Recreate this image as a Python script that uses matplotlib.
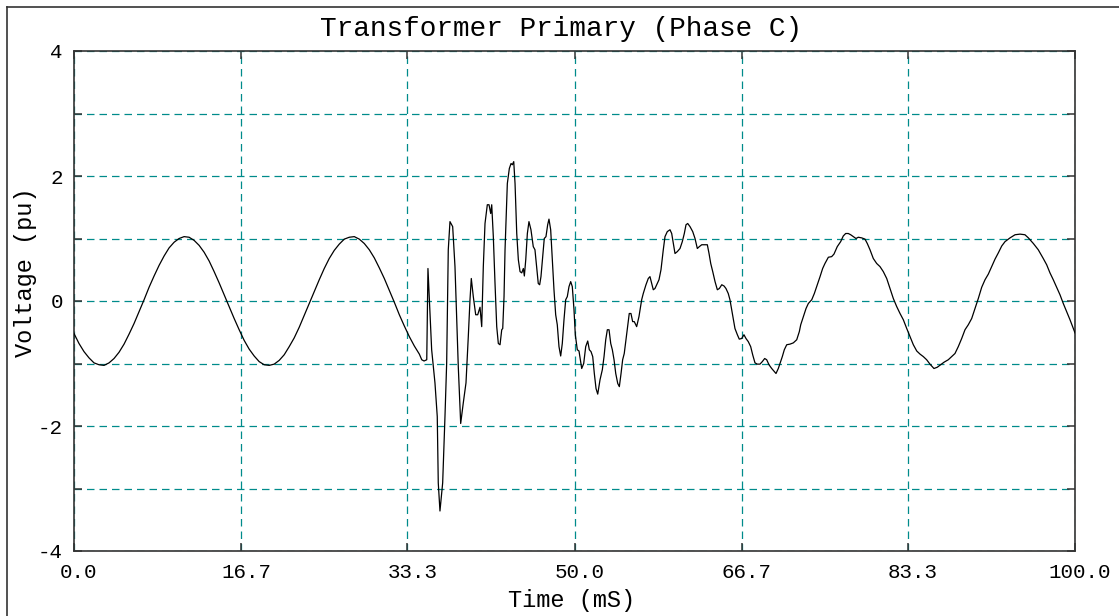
import matplotlib
matplotlib.use("Agg")
import matplotlib.pyplot as plt
from matplotlib.lines import Line2D
from matplotlib.ticker import FixedLocator
from matplotlib.transforms import ScaledTranslation

# ---- data ----
title = "Transformer Primary (Phase C)"
x_label = "Time (mS)"
y_label = "Voltage (pu)"

x_tick_labels = ["0.0", "16.7", "33.3", "50.0", "66.7", "83.3", "100.0"]
y_tick_labels = ["-4", "-2", "0", "2", "4"]
y_grid_minor = [-3, -1, 1, 3]

# pre-disturbance sine (0 .. 34.5 ms)
time_pre = [0.0, 0.5, 1.0, 1.5, 2.0, 2.5, 3.0, 3.5, 4.0, 4.5, 5.0, 5.5, 6.0, 6.5,
            7.0, 7.5, 8.0, 8.5, 9.0, 9.5, 10.0, 10.5, 11.0, 11.5, 12.0, 12.5, 13.0,
            13.5, 14.0, 14.5, 15.0, 15.5, 16.0, 16.5, 17.0, 17.5, 18.0, 18.5, 19.0,
            19.5, 20.0, 20.5, 21.0, 21.5, 22.0, 22.5, 23.0, 23.5, 24.0, 24.5, 25.0,
            25.5, 26.0, 26.5, 27.0, 27.5, 28.0, 28.5, 29.0, 29.5, 30.0, 30.5, 31.0,
            31.5, 32.0, 32.5, 33.0, 33.5, 34.0, 34.5]
volt_pre = [-0.52, -0.68, -0.81, -0.91, -0.99, -1.02, -1.03, -0.99, -0.92, -0.82,
            -0.69, -0.53, -0.36, -0.17, 0.02, 0.22, 0.40, 0.57, 0.72, 0.85, 0.94,
            1.00, 1.03, 1.02, 0.97, 0.89, 0.78, 0.64, 0.47, 0.29, 0.10, -0.09,
            -0.28, -0.46, -0.63, -0.77, -0.88, -0.97, -1.02, -1.03, -1.01, -0.95,
            -0.86, -0.73, -0.59, -0.42, -0.23, -0.04, 0.15, 0.34, 0.52, 0.68, 0.81,
            0.91, 0.99, 1.02, 1.03, 0.99, 0.92, 0.82, 0.69, 0.53, 0.36, 0.17, -0.02,
            -0.22, -0.40, -0.57, -0.72, -0.85]

# disturbance (34.7 .. 72.5 ms)
time_dist = [34.74, 34.97, 35.24, 35.36, 35.73, 36.06, 36.29, 36.39, 36.56, 36.83,
             37.06, 37.23, 37.39, 37.56, 37.83, 38.06, 38.23, 38.39, 38.63, 38.89,
             39.16, 39.39, 39.56, 39.69, 39.89, 40.13, 40.33, 40.56, 40.73, 40.89,
             41.06, 41.29, 41.46, 41.63, 41.73, 41.89, 42.06, 42.23, 42.39, 42.56,
             42.73, 42.83, 42.96, 43.06, 43.29, 43.49, 43.66, 43.79, 43.93, 44.06,
             44.23, 44.39, 44.56, 44.73, 44.89, 44.99, 45.13, 45.29, 45.45, 45.65,
             45.88, 46.05, 46.22, 46.38, 46.52, 46.65, 46.82, 46.98, 47.15, 47.32,
             47.45, 47.62, 47.78, 47.95, 48.12, 48.28, 48.45, 48.62, 48.78, 48.95,
             49.12, 49.28, 49.45, 49.62, 49.78, 49.95, 50.08, 50.28, 50.45, 50.58,
             50.72, 50.92, 51.12, 51.32, 51.48, 51.65, 51.82, 51.98, 52.15, 52.32,
             52.55, 52.78, 52.95, 53.12, 53.28, 53.45, 53.62, 53.78, 53.95, 54.12,
             54.32, 54.48, 54.65, 54.81, 54.97, 55.14, 55.31, 55.47, 55.64, 55.81,
             55.97, 56.21, 56.44, 56.71, 56.87, 57.14, 57.37, 57.54, 57.71, 57.87,
             58.04, 58.21, 58.44, 58.64, 58.87, 59.04, 59.27, 59.54, 59.71, 59.87,
             60.04, 60.27, 60.54, 60.77, 60.97, 61.14, 61.31, 61.54, 61.81, 62.04,
             62.27, 62.47, 62.71, 63.04, 63.27, 63.44, 63.61, 63.81, 64.04, 64.27,
             64.47, 64.71, 64.94, 65.13, 65.36, 65.53, 65.70, 65.86, 66.03, 66.27,
             66.46, 66.70, 66.93, 67.13, 67.36, 67.60, 67.80, 68.03, 68.26, 68.53,
             68.76, 69.00, 69.20, 69.43, 69.70, 69.96, 70.13, 70.36, 70.53, 70.76,
             70.96, 71.20, 71.53, 71.86, 72.20, 72.46]
volt_dist = [-0.94, -0.96, -0.94, 0.52, -0.78, -1.31, -1.85, -2.91, -3.36, -2.91,
             -1.85, -0.99, 0.82, 1.27, 1.19, 0.55, -0.25, -1.05, -1.96, -1.63,
             -1.31, -0.57, 0.02, 0.36, 0.07, -0.22, -0.22, -0.10, -0.41, 0.55,
             1.24, 1.54, 1.54, 1.40, 1.54, 1.03, 0.28, -0.41, -0.68, -0.70,
             -0.46, -0.44, 0.07, 0.82, 1.88, 2.12, 2.20, 2.18, 2.23, 1.88,
             1.08, 0.66, 0.47, 0.45, 0.52, 0.40, 0.66, 1.08, 1.27, 1.14,
             0.87, 0.82, 0.55, 0.28, 0.26, 0.39, 0.71, 1.00, 1.03, 1.22,
             1.31, 1.14, 0.66, 0.18, -0.22, -0.38, -0.73, -0.88, -0.68, -0.30,
             0.02, 0.07, 0.23, 0.31, 0.23, -0.14, -0.54, -0.78, -0.80, -0.94,
             -1.08, -1.00, -0.73, -0.64, -0.78, -0.81, -0.89, -1.16, -1.40, -1.49,
             -1.26, -1.10, -0.89, -0.62, -0.46, -0.46, -0.68, -0.78, -0.94, -1.16,
             -1.32, -1.37, -1.16, -0.94, -0.84, -0.62, -0.41, -0.20, -0.20, -0.33,
             -0.33, -0.41, -0.25, 0.02, 0.12, 0.26, 0.36, 0.39, 0.28, 0.18,
             0.20, 0.26, 0.34, 0.50, 0.82, 1.03, 1.11, 1.14, 1.08, 0.92,
             0.76, 0.79, 0.84, 0.95, 1.08, 1.22, 1.24, 1.19, 1.11, 1.00,
             0.84, 0.87, 0.90, 0.90, 0.90, 0.76, 0.60, 0.47, 0.31, 0.18,
             0.20, 0.26, 0.24, 0.20, 0.12, 0.02, -0.14, -0.30, -0.44, -0.54,
             -0.61, -0.60, -0.54, -0.60, -0.65, -0.73, -0.86, -0.99, -1.01, -1.01,
             -0.97, -0.92, -0.94, -1.02, -1.08, -1.13, -1.16, -1.08, -1.00, -0.89,
             -0.78, -0.70, -0.69, -0.67, -0.62, -0.49]

# recovery (72.6 .. 100 ms)
time_post = [72.60, 72.86, 73.13, 73.36, 73.70, 73.96, 74.26, 74.53, 74.79, 75.02,
             75.36, 75.69, 75.92, 76.25, 76.59, 76.85, 77.09, 77.35, 77.59, 77.85,
             78.12, 78.35, 78.69, 79.02, 79.25, 79.52, 79.85, 80.19, 80.52, 80.85,
             81.19, 81.52, 81.85, 82.19, 82.52, 82.85, 83.19, 83.52, 83.85, 84.19,
             84.52, 84.85, 85.18, 85.51, 85.91, 86.24, 86.58, 86.91, 87.34, 87.68,
             88.01, 88.34, 88.68, 89.01, 89.34, 89.68, 90.01, 90.34, 90.68, 91.01,
             91.34, 91.68, 92.01, 92.34, 92.68, 93.01, 93.51, 94.01, 94.51, 95.00,
             95.34, 95.84, 96.33, 96.83, 97.17, 97.50, 97.83, 98.17, 98.50, 98.83,
             99.17, 99.50, 99.83, 100.0]
volt_post = [-0.38, -0.25, -0.12, -0.04, 0.02, 0.12, 0.26, 0.39, 0.52, 0.60,
             0.70, 0.71, 0.75, 0.87, 0.95, 1.04, 1.08, 1.08, 1.06, 1.03,
             1.00, 1.02, 1.01, 0.99, 0.92, 0.82, 0.68, 0.60, 0.55, 0.47,
             0.36, 0.20, 0.04, -0.09, -0.20, -0.30, -0.44, -0.57, -0.70, -0.80,
             -0.85, -0.89, -0.94, -1.01, -1.08, -1.06, -1.02, -0.98, -0.94, -0.89,
             -0.84, -0.73, -0.60, -0.46, -0.38, -0.28, -0.12, 0.04, 0.22, 0.34,
             0.43, 0.55, 0.67, 0.77, 0.88, 0.95, 1.01, 1.06, 1.07, 1.06,
             1.01, 0.92, 0.82, 0.68, 0.58, 0.45, 0.34, 0.22, 0.10, -0.04,
             -0.17, -0.30, -0.44, -0.51]

time_ms = time_pre + time_dist + time_post
voltage_pu = volt_pre + volt_dist + volt_post

# ---- styling ----
W, H, DPI = 1119, 616, 100
FONT = ["Liberation Mono", "DejaVu Sans Mono"]
GRID = "#008b8b"
EDGE = "#333333"

plt.rcParams["font.family"] = FONT

fig = plt.figure(figsize=(W / DPI, H / DPI), dpi=DPI, facecolor="white")
ax_l, ax_r, ax_t, ax_b = 74, 1075, 51, 551
ax = fig.add_axes([ax_l / W, 1 - ax_b / H, (ax_r - ax_l) / W, (ax_b - ax_t) / H])

ax.plot(time_ms, voltage_pu, color="black", lw=0.9, zorder=3)

x_ticks = [float(s) for s in x_tick_labels]
y_ticks = [float(s) for s in y_tick_labels]
ax.set_xlim(x_ticks[0], x_ticks[-1])
ax.set_ylim(y_ticks[0], y_ticks[-1])
ax.set_xticks(x_ticks)
ax.set_xticklabels(x_tick_labels)
ax.set_yticks(y_ticks)
ax.set_yticklabels(y_tick_labels)
ax.yaxis.set_minor_locator(FixedLocator(y_grid_minor))

ax.grid(True, which="both", color=GRID, linestyle=(0, (6, 4)), lw=0.9, zorder=1)
ax.tick_params(which="both", direction="in", length=6, width=1.1, color=EDGE,
               top=True, right=True, labelsize=15, labelcolor="black")
ax.tick_params(axis="x", pad=9)
ax.tick_params(axis="y", pad=8)
for sp in ax.spines.values():
    sp.set_color(EDGE)
    sp.set_linewidth(1.2)

shift = ScaledTranslation(5 / DPI, 0, fig.dpi_scale_trans)
for lab in ax.get_xticklabels():
    lab.set_transform(lab.get_transform() + shift)

# titles / labels placed like the reference
fig.text(561.5 / W, 1 - 36.5 / H, title, ha="center", va="baseline", fontsize=20)
fig.text(572 / W, 1 - 607 / H, x_label, ha="center", va="baseline", fontsize=17)
fig.text(32 / W, 1 - 272 / H, y_label, ha="center", va="baseline", rotation=90,
         rotation_mode="anchor", fontsize=17)

# outer frame (left and top edges visible)
fig.add_artist(Line2D([6.5 / W, 6.5 / W], [0, 1 - 7 / H], transform=fig.transFigure,
                      color=EDGE, lw=1.2))
fig.add_artist(Line2D([6.5 / W, 1], [1 - 7 / H, 1 - 7 / H], transform=fig.transFigure,
                      color=EDGE, lw=1.2))

fig.savefig("out.png", dpi=DPI, facecolor="white")
